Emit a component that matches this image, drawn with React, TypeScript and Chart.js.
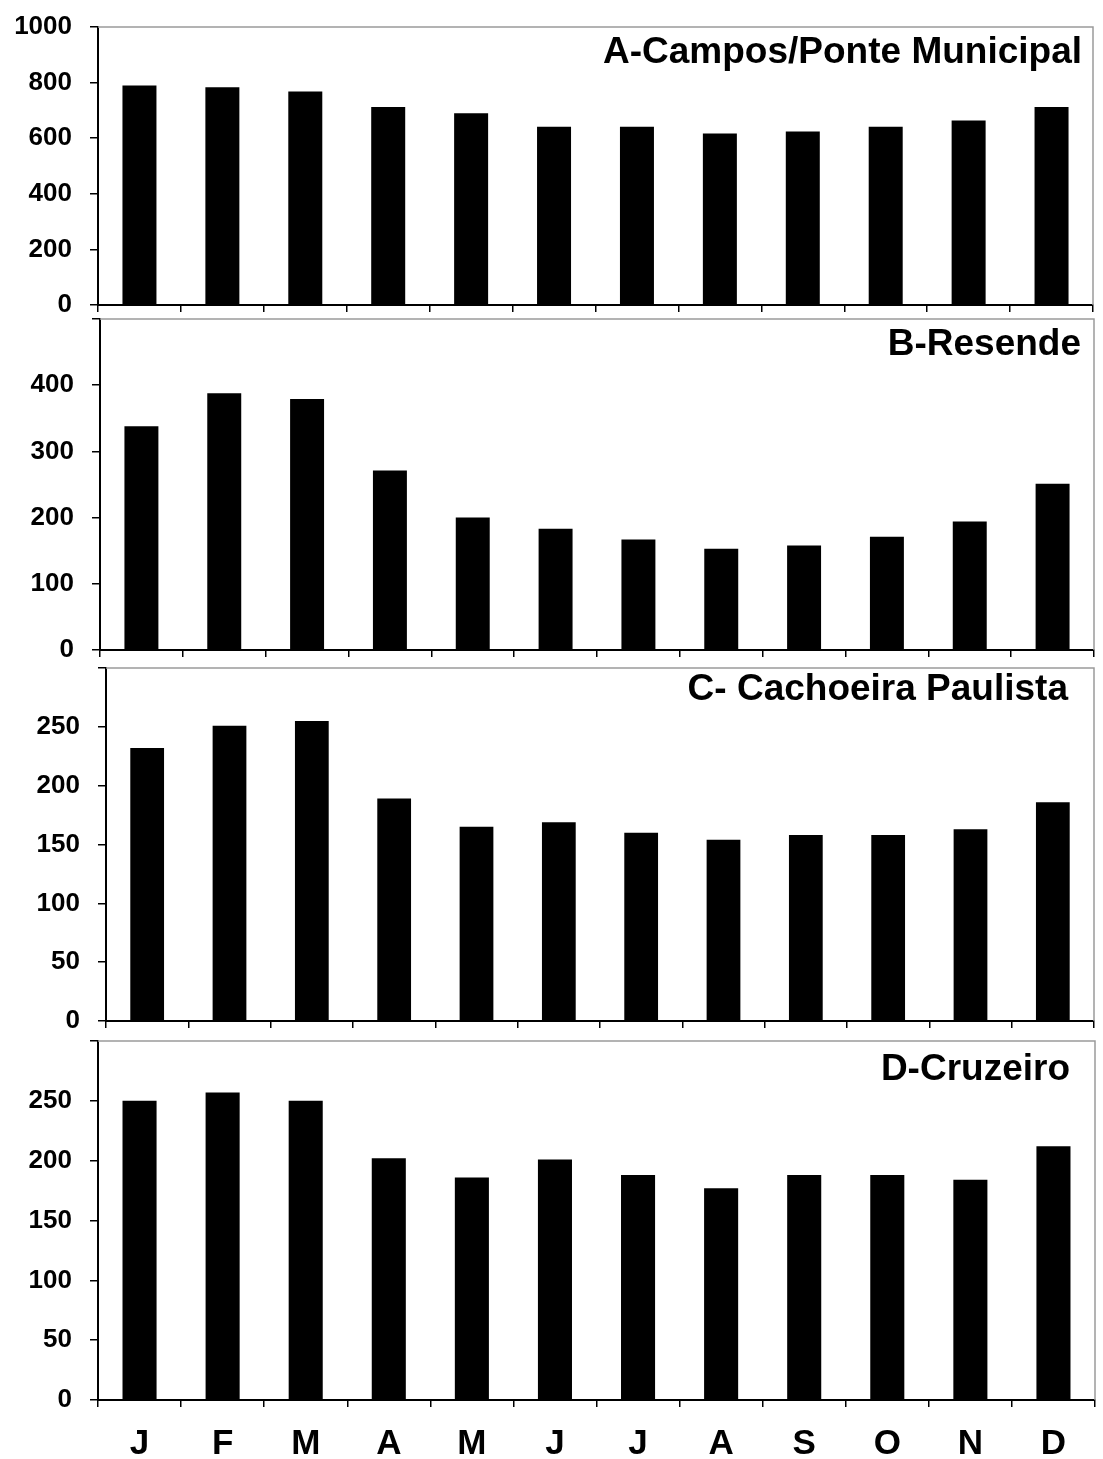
import { useEffect, useRef } from "react";
import { Chart, registerables } from "chart.js";

Chart.register(...registerables);

// months along the shared x axis
const MONTHS = ["J", "F", "M", "A", "M", "J", "J", "A", "S", "O", "N", "D"];

// monthly values per station
const CAMPOS = [790, 783, 768, 712, 690, 641, 641, 617, 624, 641, 664, 712];
const RESENDE = [338, 388, 379, 271, 200, 183, 167, 153, 158, 171, 194, 251];
const CACHOEIRA = [232, 251, 255, 189, 165, 169, 160, 154, 158, 158, 163, 186];
const CRUZEIRO = [250, 257, 250, 202, 186, 201, 188, 177, 188, 188, 184, 212];

const TITLES = ["A-Campos/Ponte Municipal", "B-Resende", "C- Cachoeira Paulista", "D-Cruzeiro"];
const Y_MAX = [1000, 500, 300, 300];
const Y_STEP = [200, 100, 50, 50];

const FONT = "'Liberation Sans', Arial, Helvetica, sans-serif";
const PAD_TOP = 27;

// page layout of each panel's plot area (px)
const PANELS = [
  { values: CAMPOS, top: 27, bottom: 305, left: 98, right: 1093, axisH: 10, padB: 12, titleDx: 11, titleDy: 36, topLabel: true, xLabels: false },
  { values: RESENDE, top: 319, bottom: 650, left: 100, right: 1094, axisH: 10, padB: 12, titleDx: 13, titleDy: 36, topLabel: false, xLabels: false },
  { values: CACHOEIRA, top: 668, bottom: 1021, left: 106, right: 1094, axisH: 10, padB: 12, titleDx: 26, titleDy: 32, topLabel: false, xLabels: false },
  { values: CRUZEIRO, top: 1041, bottom: 1400, left: 98, right: 1095, axisH: 59, padB: 0, titleDx: 25, titleDy: 39, topLabel: false, xLabels: true },
];

const framePlugin = {
  id: "frame",
  afterDraw(chart: any) {
    const { ctx, chartArea: a } = chart;
    ctx.save();
    ctx.strokeStyle = "#9a9a9a";
    ctx.lineWidth = 1.5;
    ctx.beginPath();
    ctx.moveTo(a.left, a.top);
    ctx.lineTo(a.right, a.top);
    ctx.lineTo(a.right, a.bottom);
    ctx.stroke();
    ctx.restore();
  },
};

const cornerTitle = {
  id: "cornerTitle",
  afterDraw(chart: any, _args: any, opts: any) {
    const { ctx, chartArea: a } = chart;
    ctx.save();
    ctx.font = `bold 37px ${FONT}`;
    ctx.fillStyle = "#000";
    ctx.textAlign = "right";
    ctx.textBaseline = "alphabetic";
    ctx.fillText(opts.text, a.right - opts.dx, a.top + opts.dy);
    ctx.restore();
  },
};

function Panel({ idx }: { idx: number }) {
  const canvasRef = useRef<HTMLCanvasElement>(null);
  const p = PANELS[idx];
  const height = p.bottom - p.top + PAD_TOP + p.axisH + p.padB;

  useEffect(() => {
    if (!canvasRef.current) return;
    const chart = new Chart(canvasRef.current, {
      type: "bar",
      data: {
        labels: MONTHS,
        datasets: [{
          data: p.values,
          backgroundColor: "#000",
          borderWidth: 0,
          barPercentage: 0.41,
          categoryPercentage: 1,
        }],
      },
      options: {
        responsive: true,
        maintainAspectRatio: false,
        animation: false,
        layout: { padding: { top: PAD_TOP, right: 1103 - p.right, left: 0, bottom: p.padB } },
        plugins: {
          legend: { display: false },
          tooltip: { enabled: false },
          cornerTitle: { text: TITLES[idx], dx: p.titleDx, dy: p.titleDy },
        } as any,
        scales: {
          x: {
            type: "category",
            offset: true,
            grid: { offset: true, drawOnChartArea: false, tickLength: 7, color: "#000", lineWidth: 1.5 },
            border: { color: "#000", width: 2 },
            ticks: {
              display: p.xLabels,
              color: "#000",
              font: { family: FONT, size: 35, weight: "bold" },
              padding: 16,
              maxRotation: 0,
              autoSkip: false,
            },
            afterFit: (s: any) => {
              s.height = p.axisH;
              s.paddingLeft = 0;
              s.paddingRight = 0;
            },
          },
          y: {
            min: 0,
            max: Y_MAX[idx],
            grid: { drawOnChartArea: false, tickLength: 8, color: "#000", lineWidth: 1.5 },
            border: { color: "#000", width: 2 },
            ticks: {
              stepSize: Y_STEP[idx],
              color: "#000",
              padding: 18,
              font: { family: FONT, size: 26, weight: "bold" },
              callback: (v: any) => (!p.topLabel && v === Y_MAX[idx] ? "" : String(v)),
            },
            afterFit: (s: any) => {
              s.width = p.left;
              s.paddingTop = 0;
              s.paddingBottom = 0;
            },
          },
        },
      },
      plugins: [framePlugin, cornerTitle],
    });
    return () => { chart.destroy(); };
  }, [idx]);

  return (
    <div style={{ position: "absolute", left: 0, top: p.top - PAD_TOP, width: 1103, height }}>
      <canvas ref={canvasRef} />
    </div>
  );
}

export default function App() {
  return (
    <div style={{ position: "absolute", left: 0, top: 0, width: 1103, height: 1459, background: "#fff" }}>
      {PANELS.map((_, i) => <Panel key={i} idx={i} />)}
    </div>
  );
}
